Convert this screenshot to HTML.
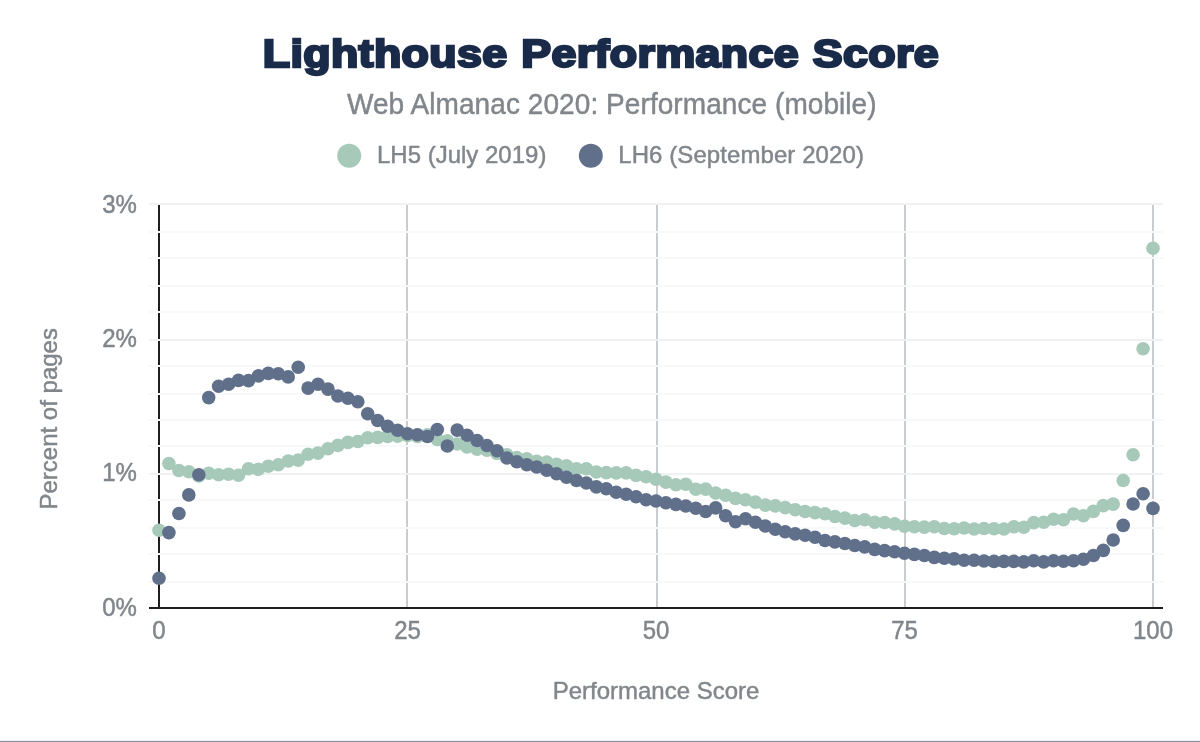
<!DOCTYPE html>
<html lang="en">
<head>
<meta charset="utf-8">
<title>Lighthouse Performance Score</title>
<style>
html,body{margin:0;padding:0;background:#fff;}
body{width:1200px;height:742px;overflow:hidden;position:relative;}
svg{display:block;position:absolute;left:0;top:0;}
text{font-family:"Liberation Sans",Arial,Helvetica,sans-serif;}
.t{fill:#80868b;font-size:24px;stroke:#80868b;stroke-width:0.45px;}
#title{position:absolute;left:0.5px;top:29px;width:1200px;margin:0;text-align:center;white-space:nowrap;font-family:"Liberation Sans",Arial,Helvetica,sans-serif;font-weight:bold;font-size:38px;line-height:50px;height:50px;color:#1a2b49;-webkit-text-stroke:2.4px #1a2b49;transform:scaleX(1.177);transform-origin:600.75px 0;letter-spacing:0.33px;word-spacing:0.8px;}
</style>
</head>
<body>
<svg width="1200" height="742" viewBox="0 0 1200 742">
<rect x="0" y="0" width="1200" height="742" fill="#ffffff"/>

<rect x="406" y="204" width="2" height="403" fill="#c9cdcf"/>
<rect x="656" y="204" width="2" height="403" fill="#c9cdcf"/>
<rect x="904" y="204" width="2" height="403" fill="#c9cdcf"/>
<rect x="1152" y="204" width="2" height="403" fill="#c9cdcf"/>
<rect x="158" y="204" width="2" height="404" fill="#1e1e1e"/>
<rect x="149" y="203" width="1014" height="2" fill="#eff1f3"/>
<rect x="149" y="231" width="1014" height="2" fill="#f8f9fa"/>
<rect x="149" y="257" width="1014" height="2" fill="#f8f9fa"/>
<rect x="149" y="285" width="1014" height="2" fill="#f8f9fa"/>
<rect x="149" y="311" width="1014" height="2" fill="#f8f9fa"/>
<rect x="149" y="339" width="1014" height="2" fill="#eff1f3"/>
<rect x="149" y="365" width="1014" height="2" fill="#f8f9fa"/>
<rect x="149" y="393" width="1014" height="2" fill="#f8f9fa"/>
<rect x="149" y="419" width="1014" height="2" fill="#f8f9fa"/>
<rect x="149" y="445" width="1014" height="2" fill="#f8f9fa"/>
<rect x="149" y="473" width="1014" height="2" fill="#eff1f3"/>
<rect x="149" y="499" width="1014" height="2" fill="#f8f9fa"/>
<rect x="149" y="527" width="1014" height="2" fill="#f8f9fa"/>
<rect x="149" y="553" width="1014" height="2" fill="#f8f9fa"/>
<rect x="149" y="581" width="1014" height="2" fill="#f8f9fa"/>
<rect x="149" y="607" width="1014" height="2" fill="#1e1e1e"/>
<g fill="#a6c9b9">
<circle cx="159.0" cy="530.3" r="6.8"/>
<circle cx="168.9" cy="463.5" r="6.8"/>
<circle cx="178.9" cy="470.5" r="6.8"/>
<circle cx="188.8" cy="471.8" r="6.8"/>
<circle cx="198.8" cy="476.0" r="6.8"/>
<circle cx="208.7" cy="473.2" r="6.8"/>
<circle cx="218.6" cy="474.8" r="6.8"/>
<circle cx="228.6" cy="474.3" r="6.8"/>
<circle cx="238.5" cy="475.2" r="6.8"/>
<circle cx="248.5" cy="468.8" r="6.8"/>
<circle cx="258.4" cy="469.3" r="6.8"/>
<circle cx="268.3" cy="466.3" r="6.8"/>
<circle cx="278.3" cy="464.8" r="6.8"/>
<circle cx="288.2" cy="461.0" r="6.8"/>
<circle cx="298.2" cy="460.1" r="6.8"/>
<circle cx="308.1" cy="454.3" r="6.8"/>
<circle cx="318.0" cy="453.1" r="6.8"/>
<circle cx="328.0" cy="448.8" r="6.8"/>
<circle cx="337.9" cy="445.4" r="6.8"/>
<circle cx="347.9" cy="442.4" r="6.8"/>
<circle cx="357.8" cy="441.5" r="6.8"/>
<circle cx="367.7" cy="437.7" r="6.8"/>
<circle cx="377.7" cy="437.4" r="6.8"/>
<circle cx="387.6" cy="436.4" r="6.8"/>
<circle cx="397.6" cy="436.3" r="6.8"/>
<circle cx="407.5" cy="435.5" r="6.8"/>
<circle cx="417.4" cy="436.4" r="6.8"/>
<circle cx="427.4" cy="434.9" r="6.8"/>
<circle cx="437.3" cy="439.5" r="6.8"/>
<circle cx="447.3" cy="440.9" r="6.8"/>
<circle cx="457.2" cy="444.0" r="6.8"/>
<circle cx="467.1" cy="447.0" r="6.8"/>
<circle cx="477.1" cy="449.1" r="6.8"/>
<circle cx="487.0" cy="450.3" r="6.8"/>
<circle cx="497.0" cy="453.5" r="6.8"/>
<circle cx="506.9" cy="454.8" r="6.8"/>
<circle cx="516.8" cy="457.6" r="6.8"/>
<circle cx="526.8" cy="458.8" r="6.8"/>
<circle cx="536.7" cy="461.2" r="6.8"/>
<circle cx="546.7" cy="462.0" r="6.8"/>
<circle cx="556.6" cy="464.2" r="6.8"/>
<circle cx="566.5" cy="465.8" r="6.8"/>
<circle cx="576.5" cy="468.7" r="6.8"/>
<circle cx="586.4" cy="468.7" r="6.8"/>
<circle cx="596.4" cy="472.0" r="6.8"/>
<circle cx="606.3" cy="472.6" r="6.8"/>
<circle cx="616.2" cy="472.9" r="6.8"/>
<circle cx="626.2" cy="472.9" r="6.8"/>
<circle cx="636.1" cy="475.4" r="6.8"/>
<circle cx="646.1" cy="476.8" r="6.8"/>
<circle cx="656.0" cy="479.3" r="6.8"/>
<circle cx="665.9" cy="482.1" r="6.8"/>
<circle cx="675.9" cy="484.8" r="6.8"/>
<circle cx="685.8" cy="484.3" r="6.8"/>
<circle cx="695.8" cy="489.3" r="6.8"/>
<circle cx="705.7" cy="489.1" r="6.8"/>
<circle cx="715.6" cy="493.0" r="6.8"/>
<circle cx="725.6" cy="495.3" r="6.8"/>
<circle cx="735.5" cy="498.4" r="6.8"/>
<circle cx="745.5" cy="499.8" r="6.8"/>
<circle cx="755.4" cy="502.1" r="6.8"/>
<circle cx="765.3" cy="505.1" r="6.8"/>
<circle cx="775.3" cy="505.9" r="6.8"/>
<circle cx="785.2" cy="507.6" r="6.8"/>
<circle cx="795.2" cy="509.8" r="6.8"/>
<circle cx="805.1" cy="511.5" r="6.8"/>
<circle cx="815.0" cy="512.6" r="6.8"/>
<circle cx="825.0" cy="513.8" r="6.8"/>
<circle cx="834.9" cy="516.5" r="6.8"/>
<circle cx="844.9" cy="518.1" r="6.8"/>
<circle cx="854.8" cy="520.5" r="6.8"/>
<circle cx="864.7" cy="519.8" r="6.8"/>
<circle cx="874.7" cy="522.2" r="6.8"/>
<circle cx="884.6" cy="522.5" r="6.8"/>
<circle cx="894.6" cy="523.9" r="6.8"/>
<circle cx="904.5" cy="526.3" r="6.8"/>
<circle cx="914.4" cy="526.8" r="6.8"/>
<circle cx="924.4" cy="527.1" r="6.8"/>
<circle cx="934.3" cy="526.8" r="6.8"/>
<circle cx="944.3" cy="528.5" r="6.8"/>
<circle cx="954.2" cy="528.8" r="6.8"/>
<circle cx="964.1" cy="528.0" r="6.8"/>
<circle cx="974.1" cy="529.0" r="6.8"/>
<circle cx="984.0" cy="528.5" r="6.8"/>
<circle cx="994.0" cy="528.8" r="6.8"/>
<circle cx="1003.9" cy="529.0" r="6.8"/>
<circle cx="1013.8" cy="526.8" r="6.8"/>
<circle cx="1023.8" cy="527.3" r="6.8"/>
<circle cx="1033.7" cy="522.6" r="6.8"/>
<circle cx="1043.7" cy="522.3" r="6.8"/>
<circle cx="1053.6" cy="519.2" r="6.8"/>
<circle cx="1063.5" cy="519.8" r="6.8"/>
<circle cx="1073.5" cy="514.0" r="6.8"/>
<circle cx="1083.4" cy="515.8" r="6.8"/>
<circle cx="1093.4" cy="511.4" r="6.8"/>
<circle cx="1103.3" cy="505.6" r="6.8"/>
<circle cx="1113.2" cy="504.1" r="6.8"/>
<circle cx="1123.2" cy="480.5" r="6.8"/>
<circle cx="1133.1" cy="454.8" r="6.8"/>
<circle cx="1143.1" cy="348.8" r="6.8"/>
<circle cx="1153.0" cy="248.2" r="6.8"/>
</g>
<g fill="#60708b">
<circle cx="159.0" cy="578.2" r="6.8"/>
<circle cx="168.9" cy="532.6" r="6.8"/>
<circle cx="178.9" cy="513.5" r="6.8"/>
<circle cx="188.8" cy="494.9" r="6.8"/>
<circle cx="198.8" cy="474.8" r="6.8"/>
<circle cx="208.7" cy="397.6" r="6.8"/>
<circle cx="218.6" cy="386.3" r="6.8"/>
<circle cx="228.6" cy="384.3" r="6.8"/>
<circle cx="238.5" cy="380.4" r="6.8"/>
<circle cx="248.5" cy="380.6" r="6.8"/>
<circle cx="258.4" cy="375.9" r="6.8"/>
<circle cx="268.3" cy="373.4" r="6.8"/>
<circle cx="278.3" cy="373.7" r="6.8"/>
<circle cx="288.2" cy="376.9" r="6.8"/>
<circle cx="298.2" cy="367.2" r="6.8"/>
<circle cx="308.1" cy="388.1" r="6.8"/>
<circle cx="318.0" cy="384.3" r="6.8"/>
<circle cx="328.0" cy="389.1" r="6.8"/>
<circle cx="337.9" cy="396.0" r="6.8"/>
<circle cx="347.9" cy="398.3" r="6.8"/>
<circle cx="357.8" cy="401.7" r="6.8"/>
<circle cx="367.7" cy="413.8" r="6.8"/>
<circle cx="377.7" cy="420.5" r="6.8"/>
<circle cx="387.6" cy="426.3" r="6.8"/>
<circle cx="397.6" cy="430.2" r="6.8"/>
<circle cx="407.5" cy="433.7" r="6.8"/>
<circle cx="417.4" cy="434.7" r="6.8"/>
<circle cx="427.4" cy="436.5" r="6.8"/>
<circle cx="437.3" cy="429.5" r="6.8"/>
<circle cx="447.3" cy="446.0" r="6.8"/>
<circle cx="457.2" cy="430.1" r="6.8"/>
<circle cx="467.1" cy="435.2" r="6.8"/>
<circle cx="477.1" cy="440.5" r="6.8"/>
<circle cx="487.0" cy="445.5" r="6.8"/>
<circle cx="497.0" cy="450.8" r="6.8"/>
<circle cx="506.9" cy="458.0" r="6.8"/>
<circle cx="516.8" cy="461.7" r="6.8"/>
<circle cx="526.8" cy="464.7" r="6.8"/>
<circle cx="536.7" cy="467.0" r="6.8"/>
<circle cx="546.7" cy="470.3" r="6.8"/>
<circle cx="556.6" cy="473.7" r="6.8"/>
<circle cx="566.5" cy="477.2" r="6.8"/>
<circle cx="576.5" cy="480.5" r="6.8"/>
<circle cx="586.4" cy="483.0" r="6.8"/>
<circle cx="596.4" cy="486.9" r="6.8"/>
<circle cx="606.3" cy="488.8" r="6.8"/>
<circle cx="616.2" cy="492.2" r="6.8"/>
<circle cx="626.2" cy="494.3" r="6.8"/>
<circle cx="636.1" cy="496.8" r="6.8"/>
<circle cx="646.1" cy="499.8" r="6.8"/>
<circle cx="656.0" cy="501.0" r="6.8"/>
<circle cx="665.9" cy="502.7" r="6.8"/>
<circle cx="675.9" cy="504.4" r="6.8"/>
<circle cx="685.8" cy="506.0" r="6.8"/>
<circle cx="695.8" cy="508.2" r="6.8"/>
<circle cx="705.7" cy="511.5" r="6.8"/>
<circle cx="715.6" cy="507.9" r="6.8"/>
<circle cx="725.6" cy="515.7" r="6.8"/>
<circle cx="735.5" cy="521.8" r="6.8"/>
<circle cx="745.5" cy="518.8" r="6.8"/>
<circle cx="755.4" cy="522.2" r="6.8"/>
<circle cx="765.3" cy="526.0" r="6.8"/>
<circle cx="775.3" cy="529.3" r="6.8"/>
<circle cx="785.2" cy="531.8" r="6.8"/>
<circle cx="795.2" cy="533.9" r="6.8"/>
<circle cx="805.1" cy="535.2" r="6.8"/>
<circle cx="815.0" cy="537.2" r="6.8"/>
<circle cx="825.0" cy="540.5" r="6.8"/>
<circle cx="834.9" cy="541.9" r="6.8"/>
<circle cx="844.9" cy="543.5" r="6.8"/>
<circle cx="854.8" cy="545.5" r="6.8"/>
<circle cx="864.7" cy="546.9" r="6.8"/>
<circle cx="874.7" cy="549.4" r="6.8"/>
<circle cx="884.6" cy="550.6" r="6.8"/>
<circle cx="894.6" cy="551.8" r="6.8"/>
<circle cx="904.5" cy="553.2" r="6.8"/>
<circle cx="914.4" cy="554.4" r="6.8"/>
<circle cx="924.4" cy="555.5" r="6.8"/>
<circle cx="934.3" cy="557.4" r="6.8"/>
<circle cx="944.3" cy="558.2" r="6.8"/>
<circle cx="954.2" cy="558.9" r="6.8"/>
<circle cx="964.1" cy="560.2" r="6.8"/>
<circle cx="974.1" cy="560.2" r="6.8"/>
<circle cx="984.0" cy="561.0" r="6.8"/>
<circle cx="994.0" cy="561.4" r="6.8"/>
<circle cx="1003.9" cy="561.4" r="6.8"/>
<circle cx="1013.8" cy="561.4" r="6.8"/>
<circle cx="1023.8" cy="561.9" r="6.8"/>
<circle cx="1033.7" cy="560.7" r="6.8"/>
<circle cx="1043.7" cy="561.9" r="6.8"/>
<circle cx="1053.6" cy="560.7" r="6.8"/>
<circle cx="1063.5" cy="561.3" r="6.8"/>
<circle cx="1073.5" cy="560.7" r="6.8"/>
<circle cx="1083.4" cy="559.2" r="6.8"/>
<circle cx="1093.4" cy="555.5" r="6.8"/>
<circle cx="1103.3" cy="550.4" r="6.8"/>
<circle cx="1113.2" cy="540.0" r="6.8"/>
<circle cx="1123.2" cy="525.4" r="6.8"/>
<circle cx="1133.1" cy="504.0" r="6.8"/>
<circle cx="1143.1" cy="493.7" r="6.8"/>
<circle cx="1153.0" cy="508.4" r="6.8"/>
</g>
<text id="sub" font-size="28" fill="#80868b" stroke="#80868b" stroke-width="0.45" transform="translate(347 113.9) scale(1 1.03)" textLength="529.6" lengthAdjust="spacing">Web Almanac 2020: Performance (mobile)</text>
<circle cx="349.2" cy="155.8" r="12" fill="#a6c9b9"/>
<text id="l1" class="t" transform="translate(377 163) scale(1 1.03)">LH5 (July 2019)</text>
<circle cx="590.8" cy="155.8" r="12" fill="#60708b"/>
<text id="l2" class="t" transform="translate(618.3 163) scale(1 1.03)" textLength="245.6" lengthAdjust="spacing">LH6 (September 2020)</text>
<text class="t" text-anchor="end" transform="translate(136.9 212.6) scale(1 1.06)">3%</text>
<text class="t" text-anchor="end" transform="translate(136.9 346.9) scale(1 1.06)">2%</text>
<text class="t" text-anchor="end" transform="translate(136.9 481.3) scale(1 1.06)">1%</text>
<text class="t" text-anchor="end" transform="translate(136.9 615.6) scale(1 1.06)">0%</text>
<text class="t" text-anchor="middle" transform="translate(159.0 639.1) scale(1 1.04)">0</text>
<text class="t" text-anchor="middle" transform="translate(407.5 639.1) scale(1 1.04)">25</text>
<text class="t" text-anchor="middle" transform="translate(656.0 639.1) scale(1 1.04)">50</text>
<text class="t" text-anchor="middle" transform="translate(904.5 639.1) scale(1 1.04)">75</text>
<text class="t" text-anchor="middle" transform="translate(1153.0 639.1) scale(1 1.04)">100</text>
<text id="xt" class="t" text-anchor="middle" transform="translate(656 698.7) scale(1 1.03)">Performance Score</text>
<text id="yt" class="t" text-anchor="middle" transform="translate(56.6 418.8) rotate(-90) scale(1 1.03)">Percent of pages</text>
<rect x="0" y="740.85" width="1200" height="1.15" fill="#8a8d93"/>
</svg>
<div id="title">Lighthouse Performance Score</div>
</body>
</html>
